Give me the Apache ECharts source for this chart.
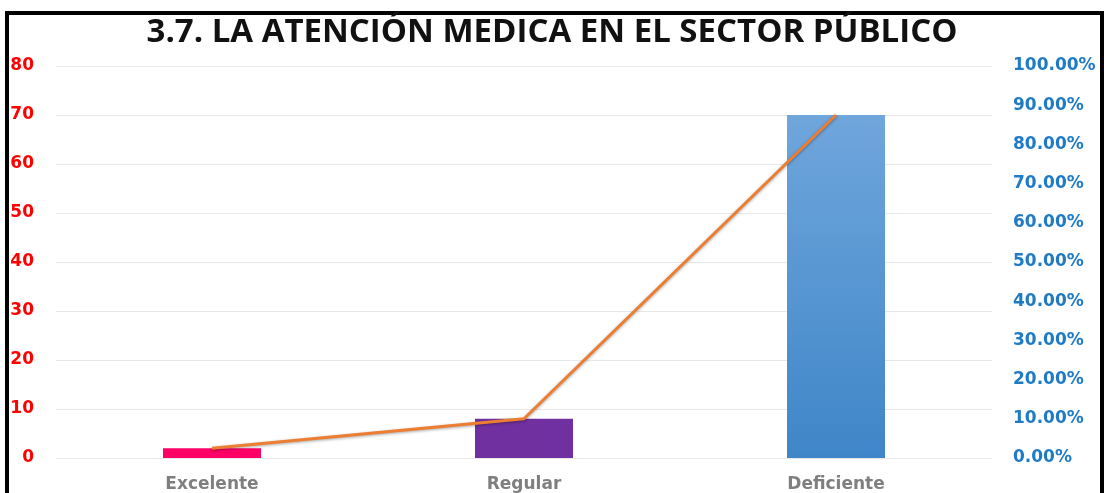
<!DOCTYPE html>
<html>
<head>
<meta charset="utf-8">
<script src="https://cdn.jsdelivr.net/npm/echarts@6/dist/echarts.min.js"></script>
<style>
html, body { margin: 0; padding: 0; background: #fff; }
#main { width: 1104px; height: 493px; }
</style>
</head>
<body>
<div id="main"></div>
<script>
// datos del grafico
var categorias = ['Excelente', 'Regular', 'Deficiente'];
var cantidades = [2, 8, 70];
var porcentajes = [0.025, 0.10, 0.875];
var coloresBarra = ['#FF0066', '#7030A0', null];

var myChart = echarts.init(document.getElementById('main'));

var barData = cantidades.map(function (v, i) {
    var color = coloresBarra[i];
    if (!color) {
        color = new echarts.graphic.LinearGradient(0, 0, 0, 1, [
            { offset: 0, color: '#6FA6DC' },
            { offset: 1, color: '#3F86C8' }
        ]);
    }
    return { value: v, itemStyle: { color: color } };
});

var option = {
    animation: false,
    title: {
        text: '3.7. LA ATENCIÓN MEDICA EN EL SECTOR PÚBLICO',
        left: 'center',
        top: 11,
        textStyle: {
            fontFamily: 'Open Sans',
            fontWeight: 'bold',
            fontSize: 33,
            color: '#111'
        }
    },
    graphic: [{
        type: 'rect',
        shape: { x: 7, y: 13, width: 1095, height: 500 },
        style: { fill: 'none', stroke: '#000', lineWidth: 4 }
    }],
    grid: {
        left: 56,
        right: 112,
        top: 66,
        bottom: 35,
        outerBoundsMode: 'none'
    },
    xAxis: {
        type: 'category',
        data: categorias,
        axisLine: { show: false },
        axisTick: { show: false },
        axisLabel: {
            margin: 18,
            fontFamily: 'DejaVu Sans',
            fontWeight: 'bold',
            fontSize: 17,
            color: '#7F7F7F'
        }
    },
    yAxis: [{
        type: 'value',
        min: 0,
        max: 80,
        interval: 10,
        axisLine: { show: false },
        axisTick: { show: false },
        splitLine: { lineStyle: { color: '#E8E8E8', width: 1 } },
        axisLabel: {
            margin: 22,
            fontFamily: 'DejaVu Sans',
            fontWeight: 'bold',
            fontSize: 17,
            color: '#FF0000'
        }
    }, {
        type: 'value',
        min: 0,
        max: 1,
        interval: 0.1,
        position: 'right',
        axisLine: { show: false },
        axisTick: { show: false },
        splitLine: { show: false },
        axisLabel: {
            margin: 21,
            fontFamily: 'DejaVu Sans',
            fontWeight: 'bold',
            fontSize: 17,
            color: '#1F7BC6',
            formatter: function (v) { return (v * 100).toFixed(2) + '%'; }
        }
    }],
    series: [{
        name: 'Cantidad',
        type: 'bar',
        data: barData,
        barWidth: 98
    }, {
        name: 'Porcentaje',
        type: 'line',
        yAxisIndex: 1,
        data: porcentajes,
        symbol: 'none',
        lineStyle: {
            color: '#ED7D31',
            width: 3,
            shadowColor: 'rgba(0,0,0,0.35)',
            shadowBlur: 3,
            shadowOffsetY: 1
        }
    }]
};

myChart.setOption(option);
</script>
</body>
</html>
